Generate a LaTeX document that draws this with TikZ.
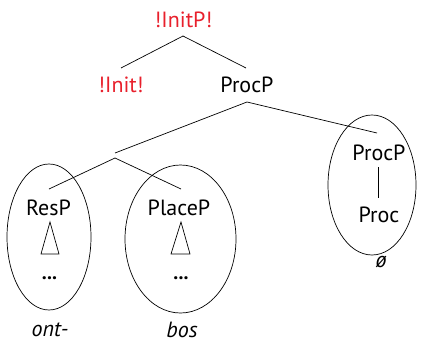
\documentclass[tikz,border=0pt]{standalone}
\usepackage{fontspec}
\setmainfont{PT Sans}
\usetikzlibrary{shapes.geometric}
\definecolor{initred}{RGB}{232,32,44}
\begin{document}
\begin{tikzpicture}[x=1pt,y=-1pt,
  lbl/.style={anchor=base, inner sep=0pt, font=\fontsize{22}{26}\selectfont},
  morph/.style={anchor=base, inner sep=0pt, font=\fontsize{22}{26}\selectfont\itshape},
  br/.style={line width=0.7pt},
  bag/.style={draw, ellipse, line width=0.7pt, inner sep=0pt}]
\useasboundingbox (0,0) rectangle (426,343);
% labels
\node[lbl, text=initred] (initp) at (183.5,27) {!InitP!};
\node[lbl, text=initred] (init) at (121,92) {!Init!};
\node[lbl] (procp) at (247,92) {ProcP};
\node[lbl] (resp) at (48.5,215) {ResP};
\node[lbl] (placep) at (179,215) {PlaceP};
\node[lbl] (procp2) at (379,160) {ProcP};
\node[lbl] (proc) at (379,222) {Proc};
\node[lbl, font=\fontsize{20}{24}\bfseries] (dots1) at (49.5,279) {...};
\node[lbl, font=\fontsize{20}{24}\bfseries] (dots2) at (181,279) {...};
\node[morph] (ont) at (50,336) {ont-};
\node[morph] (bos) at (182,337) {bos};
\node[morph] (null) at (381,267) {ø};
% bags
\node[bag, minimum width=84pt, minimum height=146pt] (bagres) at (49,237) {};
\node[bag, minimum width=111pt, minimum height=148pt] (bagplace) at (180.5,239) {};
\node[bag, minimum width=88pt, minimum height=140pt] (bagproc) at (372,185) {};
% branch points
\coordinate (a1) at (183,36);
\coordinate (a1l) at (121,68);
\coordinate (a1r) at (246,68);
\coordinate (a2) at (247,102);
\coordinate (a2l) at (115,153);
\coordinate (a2r) at (377,133);
\coordinate (a3) at (115,158);
\coordinate (a3l) at (49,189);
\coordinate (a3r) at (181,189);
\coordinate (p1) at (378,167);
\coordinate (p2) at (378,198);
\draw[br] (a1l) -- (a1) -- (a1r);
\draw[br] (a2l) -- (a2) -- (a2r);
\draw[br] (a3l) -- (a3) -- (a3r);
\draw[br] (p1) -- (p2);
% triangles
\draw[br] (50,222) -- (59,254) -- (41,254) -- cycle;
\draw[br] (181,222) -- (190,254) -- (171,254) -- cycle;
\end{tikzpicture}
\end{document}
